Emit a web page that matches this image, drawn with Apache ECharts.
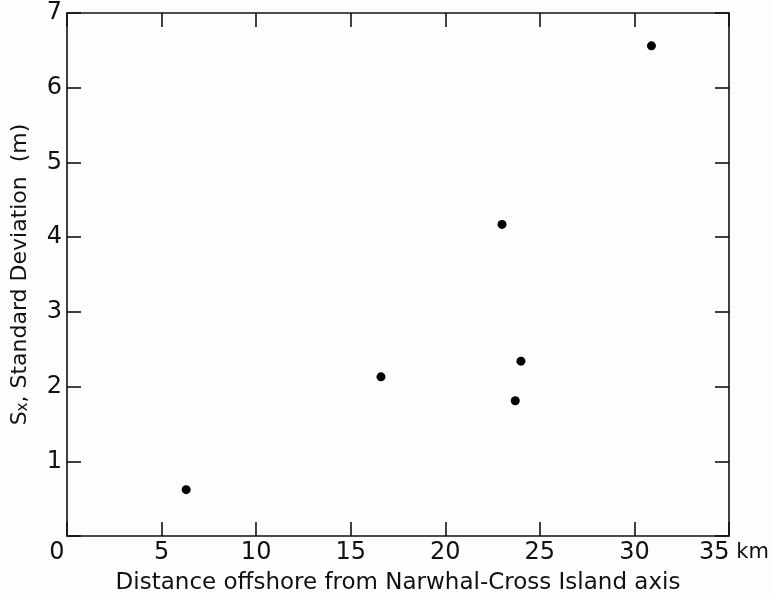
<!DOCTYPE html>
<html>
<head>
<meta charset="utf-8">
<script src="https://cdn.jsdelivr.net/npm/echarts@6/dist/echarts.min.js"></script>
<style>html,body{margin:0;padding:0;background:#fff;}#c{width:773px;height:598px;}</style>
</head>
<body>
<div id="c"></div>
<script>
const distanceKm = [6.3, 16.6, 23.0, 23.7, 24.0, 30.9];
const stdDevM = [0.62, 2.13, 4.17, 1.81, 2.34, 6.56];
const xTicks = [0, 5, 10, 15, 20, 25, 30, 35];
const yTicks = [0, 1, 2, 3, 4, 5, 6, 7];
const xTitle = 'Distance offshore from Narwhal-Cross Island axis';
const yTitle = ['S', 'x', ', Standard Deviation  (m)'];

const ink = '#111';
const font = 'DejaVu Sans';
const chart = echarts.init(document.getElementById('c'));
const axisCommon = {
  axisLine: {show: true, onZero: false, lineStyle: {color: ink, width: 1.6}},
  axisTick: {show: true, inside: true, length: 14, lineStyle: {color: ink, width: 1.6}},
  splitLine: {show: false}
};
chart.setOption({
  backgroundColor: '#fcfdfc',
  animation: false,
  grid: {left: 67, top: 13, right: 44, bottom: 62, containLabel: false, outerBoundsMode: 'none'},
  xAxis: [
    Object.assign({
      type: 'value', min: 0, max: 35, interval: 5, position: 'bottom',
      name: xTitle, nameLocation: 'middle', nameGap: 36,
      nameTextStyle: {fontFamily: font, fontSize: 23, color: ink},
      axisLabel: {
        margin: 5, color: ink, fontFamily: font, fontSize: 24,
        formatter: function (v) {
          if (v === 0) return '{z|0}';
          if (v === 35) return '{k|35}{u| km}';
          return String(v);
        },
        rich: {
          z: {fontFamily: font, fontSize: 24, color: ink, padding: [0, 20, 0, 0]},
          k: {fontFamily: font, fontSize: 24, color: ink, padding: [0, 0, 0, 10]},
          u: {fontFamily: font, fontSize: 21, color: ink}
        }
      }
    }, axisCommon),
    Object.assign({
      type: 'value', min: 0, max: 35, interval: 5, position: 'top',
      axisLabel: {show: false}
    }, axisCommon)
  ],
  yAxis: [
    Object.assign({
      type: 'value', min: 0, max: 7, interval: 1, position: 'left',
      name: '{a|' + yTitle[0] + '}{s|' + yTitle[1] + '}{a|' + yTitle[2] + '}',
      nameLocation: 'middle', nameGap: 36, nameRotate: 90,
      nameTextStyle: {
        fontFamily: font, fontSize: 22, color: ink,
        rich: {
          a: {fontFamily: font, fontSize: 22, color: ink, lineHeight: 28, verticalAlign: 'bottom'},
          s: {fontFamily: font, fontSize: 15, color: ink, lineHeight: 28, verticalAlign: 'bottom', padding: [10, 0, 0, 0]}
        }
      },
      axisLabel: {
        margin: 5, color: ink, fontFamily: font, fontSize: 24,
        formatter: function (v) { return v === 0 ? '' : String(v); }
      }
    }, axisCommon),
    Object.assign({
      type: 'value', min: 0, max: 7, interval: 1, position: 'right',
      axisLabel: {show: false}
    }, axisCommon)
  ],
  series: [{
    type: 'scatter',
    symbol: 'circle',
    symbolSize: 9,
    itemStyle: {color: '#000', opacity: 1},
    data: distanceKm.map((x, i) => [x, stdDevM[i]])
  }]
});
</script>
</body>
</html>
